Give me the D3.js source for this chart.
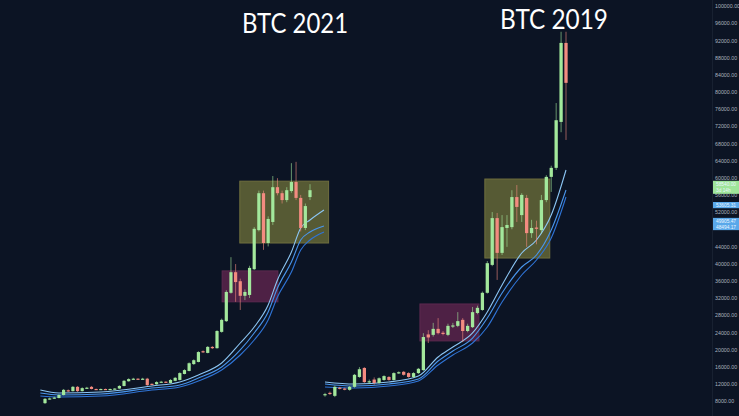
<!DOCTYPE html>
<html>
<head>
<meta charset="utf-8">
<script src="https://cdn.jsdelivr.net/npm/d3@7"></script>
<style>
html,body{margin:0;padding:0;background:#0c1424;overflow:hidden;}
svg{display:block;}
</style>
</head>
<body>
<svg id="chart" width="739" height="416"></svg>
<script>
// left fractal (BTC 2021) candles
const leftOpen  = [7500,8400,8600,8700,9400,10500,10300,11300,10300,11000,11300,10800,10700,10800,10700,10800,10900,11500,12600,13100,13200,13100,13200,12000,11900,12400,12500,12200,12700,12900,14300,15000,16600,17100,19600,19200,20600,20300,24100,26600,33200,38000,35900,32500,32700,38700,47800,56400,44800,49700,57800,56400,54800,56900,59000,55300,48300,55500];
const leftClose = [8500,8600,8800,9400,10600,10300,11300,10300,11000,11100,10800,10700,10800,10700,10800,10900,11500,12700,13100,13200,13100,13200,11700,11900,12400,12500,12400,12900,13400,14500,15200,16800,17500,19400,19400,20600,20300,24300,26900,33400,38000,35700,32500,33400,39000,48100,56400,44800,50400,57800,56400,54800,57100,59000,55300,48300,53400,57100];
const leftHigh  = [8700,8800,9000,9600,10800,10700,11500,11500,11200,11300,11500,10900,10900,10900,10900,11000,11700,12900,13300,13400,13300,13400,13400,12100,12600,12700,12600,13100,13600,14700,15400,17000,17700,19600,19800,20800,20800,24500,27200,33800,41500,39900,36500,34000,39500,48500,57000,57000,51000,60400,59900,57000,57800,63400,63700,56000,54000,58500];
const leftLow   = [7300,8300,8500,8600,9300,10100,10200,10100,10200,10900,10700,10600,10600,10600,10600,10700,10800,11400,12500,13000,13000,13000,11500,11700,11800,12300,12200,12100,12600,12800,14200,14900,16400,17000,19200,19100,20100,20200,23900,26400,33000,31100,29200,31500,32000,38500,47500,43200,44000,49000,55900,54000,54300,56500,54800,47500,47800,54800];

// right fractal (BTC 2019) candles
const rightOpen  = [9400,9900,9200,11100,10900,10600,11300,13600,15700,12400,13000,12200,12900,13600,12900,14500,14800,14500,13600,14500,15200,23500,23400,24800,23900,23400,25400,25500,26900,24300,25200,28500,29200,33200,39700,50600,42500,48300,48500,55500,51300,55300,47100,48400,47800,54800,60200,62300,73000,91400];
const rightClose = [9600,9700,11300,10900,10700,11300,14100,15400,12400,12600,12200,13300,13800,12900,14500,14700,14100,13600,14500,15500,22900,22800,24800,23800,23600,25500,25600,26600,24300,25500,28700,29700,33200,40100,50600,42500,48500,49000,55500,53200,56000,47100,48300,48100,54800,60200,62300,73400,91400,82100];
const rightHigh  = [9900,10200,11600,11300,11100,11500,14300,15900,15900,13000,13500,13500,14000,13800,14700,14900,15000,14700,14700,15700,23800,24500,26200,27300,24300,26000,26200,28700,27300,26000,29900,30200,33500,40600,52000,51800,51300,51300,57100,58300,56400,56000,50200,50000,56000,60600,62800,77400,94000,94000];
const rightLow   = [9000,9400,8900,10700,10500,10400,11100,13400,12200,12000,11800,12000,12700,12700,12800,14300,13900,13400,13400,14300,15000,21500,23000,23500,23300,23100,25000,25200,21700,24000,25000,28200,29000,33000,39400,36200,42000,43900,48000,49700,49700,43900,46000,44500,47000,54300,56700,61800,70600,68800];

// moving averages (candle index -> price)
const maLeftIdx = [-1,3,12,23,29,33,38,42,45,48,50,53,55,57,60];
const maLeftA = [10560,9860,10100,11490,12430,14060,16850,21510,25240,30360,36180,42700,48290,50160,52480];
const maLeftB = [9860,9400,9630,11030,11730,13360,15920,19880,23840,28730,34320,40370,45500,47360,48760];
const maLeftC = [9160,8930,9160,10560,11260,12660,15220,18710,22210,26870,32220,38040,43170,45500,47360];

const maRightIdx = [0,6,13,19,23,26,30,33,36,40,43,46,49];
const maRightA = [12430,11960,12430,13820,18250,20580,23840,28730,35020,42470,45500,51320,61800];
const maRightB = [11960,11490,11960,13120,17320,19650,22670,27330,33150,39210,42000,47830,57140];
const maRightC = [11260,11030,11490,12660,16380,18710,21510,25240,31060,37350,40840,45960,55510];

// highlighted ranges
const zoneSide = ['left','left','right','right'];
const zoneKind = ['yellow','purple','yellow','purple'];
const zoneFrom = [41.9,38.1,32.5,19.3];
const zoneTo   = [61,50.1,45.7,31.3];
const zoneHigh = [59200,38300,59700,30600];
const zoneLow  = [44800,31100,41300,22000];

// price scale ticks + last value labels
const priceTicks = d3.range(8000,100001,4000);
const tagValues = [58540,53605.31,49905.47,48494.17];
const tagKind = ['green','blue','blue','blue'];
const titles = ['BTC 2021','BTC 2019'];

const width = 739, height = 416;
const svg = d3.select('#chart');

svg.append('rect').attr('width',width).attr('height',height).attr('fill','#0c1424');

const y = d3.scaleLinear().domain([8000,100000]).range([401,6]);
const xLeft = d3.scaleLinear().domain([0,leftOpen.length-1]).range([45,310]);
const xRight = d3.scaleLinear().domain([0,rightOpen.length-1]).range([325,566]);
const xOf = side => side === 'left' ? xLeft : xRight;

const zoneFill = {yellow:'rgba(178,176,74,0.45)', purple:'rgba(160,48,110,0.45)'};
const zoneStroke = {yellow:'#6f6e3e', purple:'#5c2a50'};

// zones
svg.append('g').attr('class','zones')
    .selectAll('rect')
    .data(zoneSide.map((s,i)=>({side:s,kind:zoneKind[i],from:zoneFrom[i],to:zoneTo[i],hi:zoneHigh[i],lo:zoneLow[i]})))
    .enter().append('rect')
    .attr('x',d=>xOf(d.side)(d.from))
    .attr('width',d=>xOf(d.side)(d.to)-xOf(d.side)(d.from))
    .attr('y',d=>y(d.hi))
    .attr('height',d=>y(d.lo)-y(d.hi))
    .attr('fill',d=>zoneFill[d.kind])
    .attr('stroke',d=>zoneStroke[d.kind])
    .attr('stroke-width',1);

// moving average lines
const maColors = ['#8cc6f4','#4a96ec','#2f74d6'];
function drawMA(idx, series, x){
    const line = d3.line()
        .x((d,i)=>x(idx[i]))
        .y(d=>y(d))
        .curve(d3.curveMonotoneX);
    svg.append('g').attr('class','ma')
        .selectAll('path')
        .data(series)
        .enter().append('path')
        .attr('d',d=>line(d))
        .attr('fill','none')
        .attr('stroke',(d,i)=>maColors[i])
        .attr('stroke-width',1.1);
}
drawMA(maLeftIdx,[maLeftA,maLeftB,maLeftC],xLeft);
drawMA(maRightIdx,[maRightA,maRightB,maRightC],xRight);

// candles
const up = '#a3e89c', down = '#f38b80';
function drawCandles(open, close, high, low, x, bodyW){
    const data = open.map((o,i)=>({i:i,o:o,c:close[i],h:high[i],l:low[i]}));
    const g = svg.append('g').attr('class','candles');
    g.selectAll('line')
        .data(data)
        .enter().append('line')
        .attr('x1',d=>x(d.i)).attr('x2',d=>x(d.i))
        .attr('y1',d=>y(d.h)).attr('y2',d=>y(d.l))
        .attr('stroke',d=>d.c>=d.o ? up : down)
        .attr('stroke-opacity',0.75)
        .attr('stroke-width',0.8);
    g.selectAll('rect')
        .data(data)
        .enter().append('rect')
        .attr('x',d=>x(d.i)-bodyW/2)
        .attr('width',bodyW)
        .attr('y',d=>y(Math.max(d.o,d.c)))
        .attr('height',d=>Math.max(1.2,Math.abs(y(d.o)-y(d.c))))
        .attr('fill',d=>d.c>=d.o ? up : down);
}
drawCandles(leftOpen,leftClose,leftHigh,leftLow,xLeft,3.2);
drawCandles(rightOpen,rightClose,rightHigh,rightLow,xRight,3.3);

// price axis
svg.append('line')
    .attr('x1',712.5).attr('x2',712.5).attr('y1',0).attr('y2',height)
    .attr('stroke','#182131');

// tick labels hidden behind the value tags are left out
const tagYs = tagValues.map(v=>y(v));
const shownTicks = priceTicks.filter(t=>tagYs.every((ty,i)=>{
    const top = ty-4, bottom = ty + (tagKind[i]==='green' ? 10 : 4);
    return y(t) < top || y(t) > bottom;
}));

const axis = svg.append('g')
    .attr('transform','translate(715,0)')
    .call(d3.axisRight(y).tickValues(shownTicks).tickFormat(d3.format('.2f')).tickSize(0).tickPadding(0));
axis.select('.domain').remove();
axis.selectAll('text')
    .attr('fill','#aab2bf')
    .attr('font-family','Liberation Sans, Arial, sans-serif')
    .attr('font-size','5.3px');

// value tags on the axis
const tags = svg.append('g').attr('class','tags');
tagValues.forEach((v,i)=>{
    const ty = y(v);
    const big = tagKind[i] === 'green';
    tags.append('rect')
        .attr('x',713).attr('width',28)
        .attr('y',ty-3.2).attr('height',big ? 13 : 6.2)
        .attr('fill',big ? '#9fe59a' : '#5aa8ea');
    tags.append('text')
        .attr('x',716).attr('y',ty)
        .attr('dy','0.35em')
        .attr('fill','#eaf6ff')
        .attr('font-family','Liberation Sans, Arial, sans-serif')
        .attr('font-size','4.8px')
        .text(d3.format('.2f')(v));
    if(big){
        tags.append('text')
            .attr('x',716).attr('y',ty+6)
            .attr('dy','0.35em')
            .attr('fill','#eaf6ff')
            .attr('font-family','Liberation Sans, Arial, sans-serif')
            .attr('font-size','4.8px')
            .text('3d 14h');
    }
});

// titles
const titleX = [242,500], titleY = [33,29], titleW = [106,108];
svg.append('g').selectAll('text')
    .data(titles)
    .enter().append('text')
    .attr('x',(d,i)=>titleX[i])
    .attr('y',(d,i)=>titleY[i])
    .attr('textLength',(d,i)=>titleW[i])
    .attr('lengthAdjust','spacingAndGlyphs')
    .attr('fill','#ffffff')
    .attr('font-family','Lato, "Open Sans", sans-serif')
    .attr('font-size','27px')
    .text(d=>d);
</script>
</body>
</html>
